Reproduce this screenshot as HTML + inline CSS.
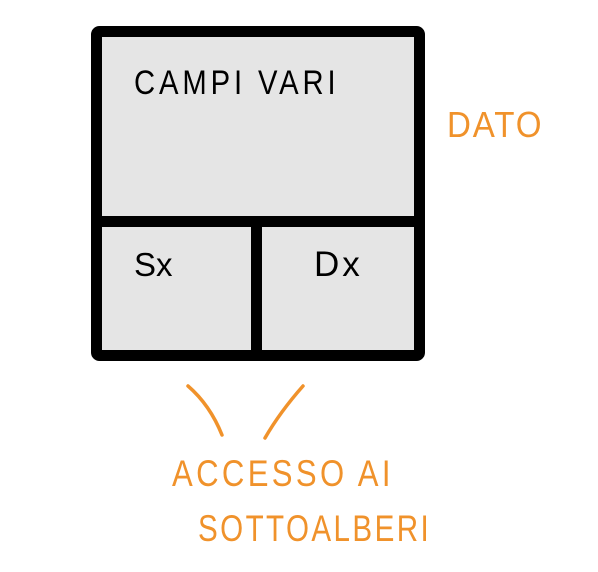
<!DOCTYPE html>
<html><head><style>
body{margin:0;width:598px;height:572px;background:#fff;overflow:hidden;position:relative;font-family:"Liberation Sans",sans-serif}
.t{position:absolute;white-space:nowrap;line-height:1}
</style></head><body>
<svg width="598" height="572" style="position:absolute;left:0;top:0">
<rect x="96.5" y="31.5" width="323" height="324" rx="3" fill="#e5e5e5" stroke="#000" stroke-width="11"/>
<line x1="96" y1="221.5" x2="420" y2="221.5" stroke="#000" stroke-width="11"/>
<line x1="256.5" y1="221" x2="256.5" y2="355" stroke="#000" stroke-width="11"/>
<path d="M188 386 Q210 405 222 435" stroke="#f0922b" stroke-width="3.5" fill="none" stroke-linecap="round"/>
<path d="M303 386 Q280 412 265 438" stroke="#f0922b" stroke-width="3.5" fill="none" stroke-linecap="round"/>
</svg>
<div class="t" style="left:134px;top:66px;font-size:34px;letter-spacing:4.5px;transform:scaleX(0.86);transform-origin:left">CAMPI VARI</div>
<div class="t" style="left:134px;top:248px;font-size:33px">Sx</div>
<div class="t" style="left:314px;top:247px;font-size:35px;letter-spacing:3px">Dx</div>
<div class="t" style="left:447px;top:107px;font-size:36px;letter-spacing:2px;color:#f0922b;transform:scaleX(0.92);transform-origin:left">DATO</div>
<div class="t" style="left:172px;top:455px;font-size:37px;letter-spacing:4px;color:#f0922b;transform:scaleX(0.84);transform-origin:left">ACCESSO AI</div>
<div class="t" style="left:198px;top:510px;font-size:37px;letter-spacing:3px;color:#f0922b;transform:scaleX(0.8);transform-origin:left">SOTTOALBERI</div>
</body></html>
